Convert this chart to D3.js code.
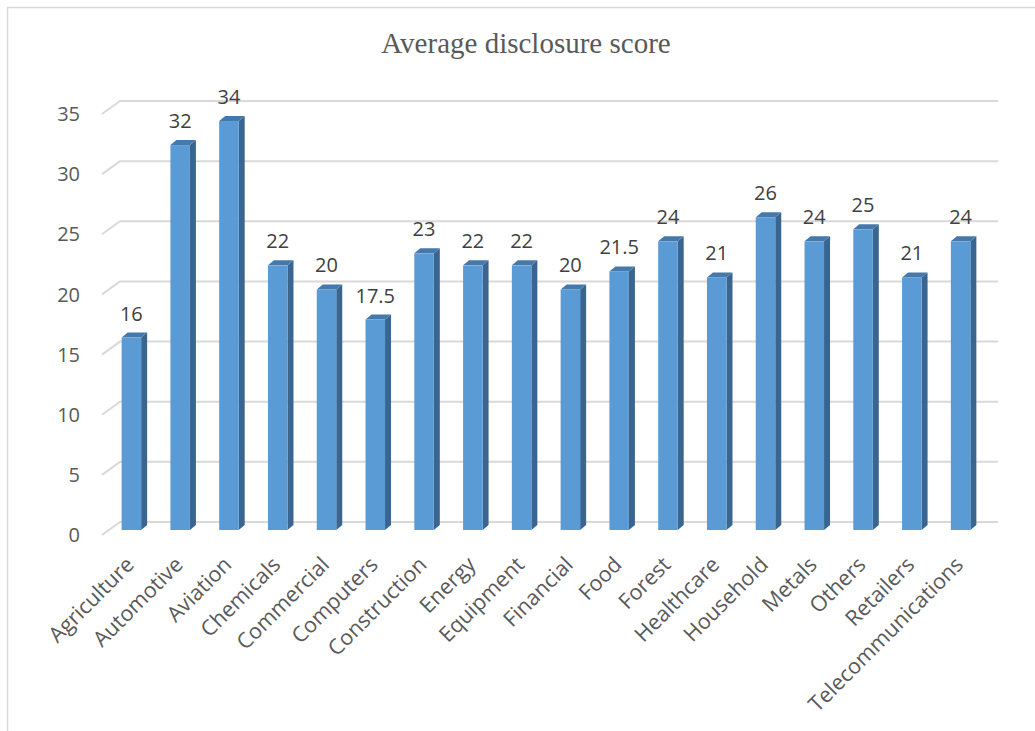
<!DOCTYPE html>
<html>
<head>
<meta charset="utf-8">
<script src="https://cdn.jsdelivr.net/npm/d3@7"></script>
<style>
  body { margin: 0; background: #fff; }
</style>
</head>
<body>
<div class="canvas"></div>
<script>
const categories = ["Agriculture", "Automotive", "Aviation", "Chemicals", "Commercial", "Computers",
  "Construction", "Energy", "Equipment", "Financial", "Food", "Forest", "Healthcare", "Household",
  "Metals", "Others", "Retailers", "Telecommunications"];
const scores = [16, 32, 34, 22, 20, 17.5, 23, 22, 22, 20, 21.5, 24, 21, 26, 24, 25, 21, 24];
const yTicks = [0, 5, 10, 15, 20, 25, 30, 35];

const width = 1035, height = 731;
const svg = d3.select('.canvas')
  .append('svg')
  .attr('width', width)
  .attr('height', height);

// chart border
svg.append("rect")
  .attr("x", 7.5).attr("y", 7.5)
  .attr("width", 1040).attr("height", 740)
  .style("fill", "none")
  .style("stroke", "#d9d9d9")
  .style("stroke-width", 1.5);

svg.append("text")
  .attr("x", 526).attr("y", 53)
  .attr("text-anchor", "middle")
  .style("font-family", "'Liberation Serif', 'Times New Roman', serif")
  .style("font-size", "29px")
  .style("fill", "#595959")
  .text("Average disclosure score");

// 3d layout: back wall, front plane, bars between
const backBase = 522, frontBase = 535, barBase = 530;
const wallLeft = 120, wallRight = 998, frontShift = 18;
const depthX = 6, depthY = 5;

const h = d3.scaleLinear().domain([0, 35]).range([0, 421]);
const x = d3.scaleBand().domain(categories).range([107, 985]).paddingInner(0.6).paddingOuter(0.3);

const grid = svg.append("g").style("stroke", "#d9d9d9").style("stroke-width", 2).style("fill", "none");
grid.selectAll("path").data(yTicks).join("path")
  .attr("d", d => `M${wallLeft - frontShift},${frontBase - h(d)} L${wallLeft},${backBase - h(d)} L${wallRight},${backBase - h(d)}`);

svg.append("g").selectAll("text").data(yTicks).join("text")
  .attr("x", 80).attr("y", d => frontBase - h(d))
  .attr("dy", "0.36em")
  .attr("text-anchor", "end")
  .style("font-family", "'Open Sans', sans-serif")
  .style("font-size", "20px")
  .style("fill", "#595959")
  .text(d => d);

const bw = x.bandwidth();
const bars = svg.append("g").selectAll("g").data(categories).join("g");

// side face
bars.append("path")
  .attr("d", (c, i) => {
    const x1 = x(c) + bw, yt = barBase - h(scores[i]);
    return `M${x1},${barBase} L${x1},${yt} L${x1 + depthX},${yt - depthY} L${x1 + depthX},${barBase - depthY} Z`;
  })
  .style("fill", "#3a6590");

// top face
bars.append("path")
  .attr("d", (c, i) => {
    const x0 = x(c), yt = barBase - h(scores[i]);
    return `M${x0},${yt} L${x0 + depthX},${yt - depthY} L${x0 + bw + depthX},${yt - depthY} L${x0 + bw},${yt} Z`;
  })
  .style("fill", "#4679ab");

// front face
bars.append("rect")
  .attr("x", c => x(c))
  .attr("y", (c, i) => barBase - h(scores[i]))
  .attr("width", bw)
  .attr("height", (c, i) => h(scores[i]))
  .style("fill", "#5b9bd5");

// value labels
bars.append("text")
  .attr("x", c => x(c) + bw / 2)
  .attr("y", (c, i) => barBase - h(scores[i]) - 17)
  .attr("text-anchor", "middle")
  .style("font-family", "'Open Sans', sans-serif")
  .style("font-size", "20px")
  .style("fill", "#404040")
  .text((c, i) => scores[i]);

// category labels
svg.append("g").selectAll("text").data(categories).join("text")
  .attr("transform", c => `translate(${x(c) + bw / 2 + 4},${566}) rotate(-45)`)
  .attr("text-anchor", "end")
  .style("font-family", "'Open Sans', sans-serif")
  .style("font-size", "21.5px")
  .style("fill", "#595959")
  .text(c => c);
</script>
</body>
</html>
